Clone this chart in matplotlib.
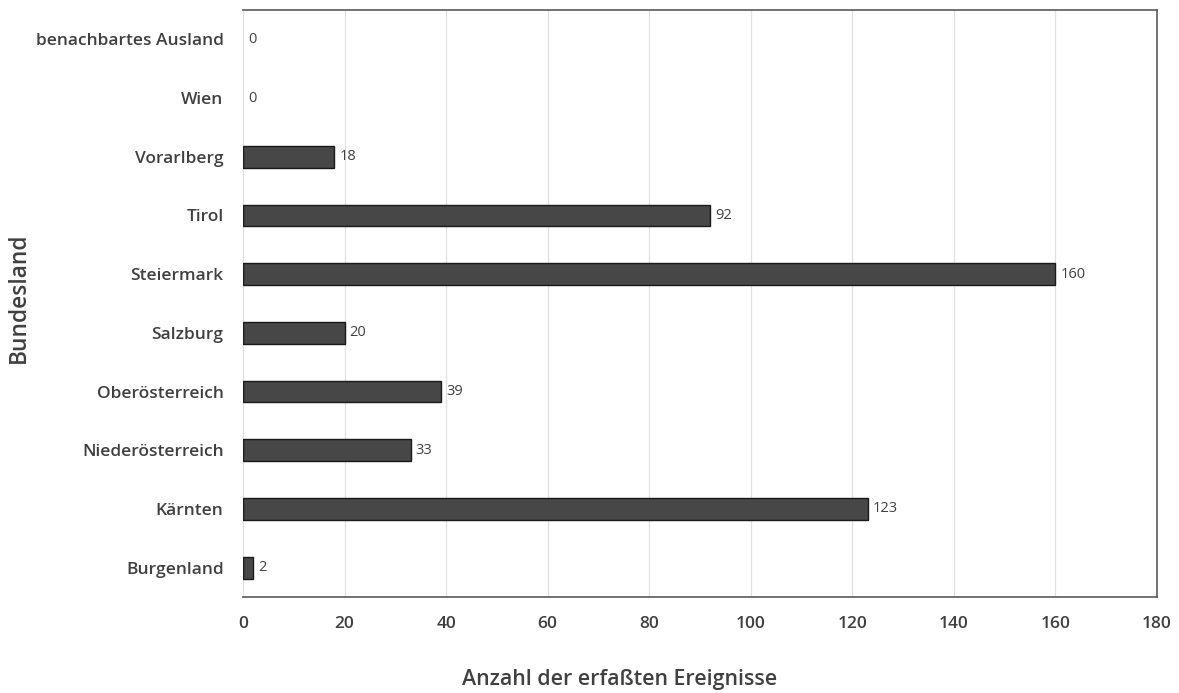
import matplotlib
matplotlib.use("Agg")
import matplotlib.pyplot as plt

categories = ["Burgenland", "Kärnten", "Niederösterreich", "Oberösterreich", "Salzburg",
              "Steiermark", "Tirol", "Vorarlberg", "Wien", "benachbartes Ausland"]
values = [2, 123, 33, 39, 20, 160, 92, 18, 0, 0]
xticks = [0, 20, 40, 60, 80, 100, 120, 140, 160, 180]

plt.rcParams['font.family'] = ['Open Sans', 'DejaVu Sans']
txt = '#404040'

fig = plt.figure(figsize=(11.79, 6.93), dpi=100)
ax = fig.add_axes([243/1179, 1-597/693, (1157-243)/1179, (597-10)/693])

ypos = list(range(len(categories)))
edges = ['#1a1a1a' if v > 0 else 'none' for v in values]
ax.barh(ypos, values, height=0.37, color='#474747', edgecolor=edges, linewidth=1, zorder=3)
for y, v in zip(ypos, values):
    ax.text(v + 1.0, y, str(v), va='center', ha='left', fontsize=10.5, color=txt, zorder=4)

ax.set_xlim(0, 180)
ax.set_ylim(-0.5, len(categories) - 0.5)
ax.set_xticks(xticks)
ax.set_yticks(ypos)
ax.set_yticklabels(categories)
ax.tick_params(axis='both', length=0, labelsize=12.5, labelcolor=txt)
ax.tick_params(axis='y', pad=14)
ax.tick_params(axis='x', pad=14)
for lab in ax.get_xticklabels() + ax.get_yticklabels():
    lab.set_fontweight('semibold')
ax.xaxis.grid(True, color='#e0e0e0', linewidth=0.9, zorder=0)
ax.set_axisbelow(True)
for s in ['top', 'right', 'bottom']:
    ax.spines[s].set_color('#5a5a5a')
    ax.spines[s].set_linewidth(1.2)
ax.spines['left'].set_color('#e0e0e0')

ax.set_xlabel('Anzahl der erfaßten Ereignisse', fontsize=15.4, fontweight='semibold', color=txt)
ax.xaxis.set_label_coords((620-243)/914, -(669-597)/587)
ax.set_ylabel('Bundesland', fontsize=16.4, fontweight='semibold', color=txt)
ax.yaxis.set_label_coords(-(243-20)/914 + 0.012, 0.51)

fig.savefig('out.png', dpi=100, facecolor='white')
